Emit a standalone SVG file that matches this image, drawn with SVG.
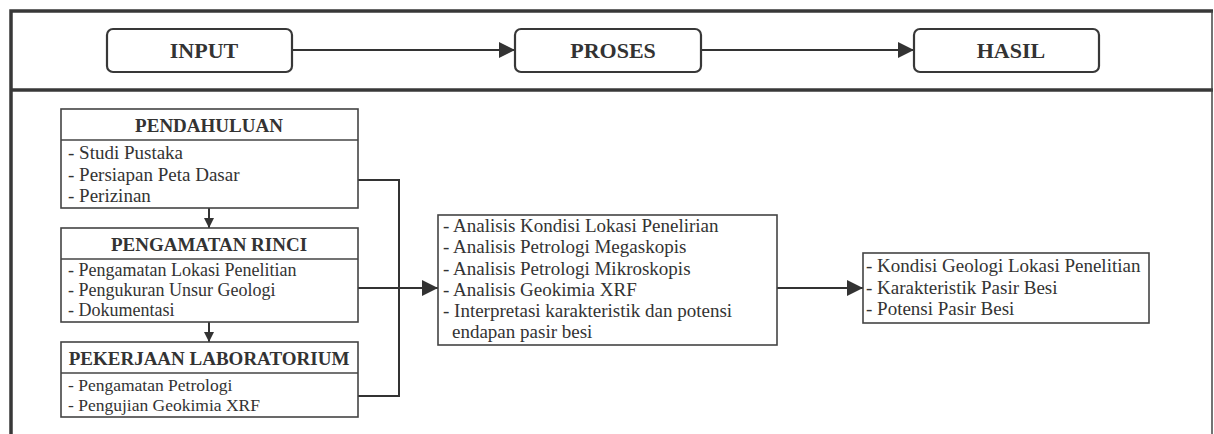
<svg xmlns="http://www.w3.org/2000/svg" width="1214" height="434" viewBox="0 0 1214 434">
<defs>
<style>
.frame{fill:none;stroke:#383838;stroke-width:3.5}
.thin{fill:none;stroke:#444;stroke-width:1.5}
.stage{fill:#fff;stroke:#383838;stroke-width:2.2}
.box{fill:#fff;stroke:#444;stroke-width:1.6}
.con{fill:none;stroke:#333;stroke-width:2}
.hdr{font-family:"Liberation Serif","Times New Roman",serif;font-weight:bold;fill:#333;text-anchor:middle}
.t{font-family:"Liberation Serif","Times New Roman",serif;font-size:19px;fill:#333}
.t.s18{font-size:18px}
.t.s17{font-size:17.5px}
</style>
<marker id="ah" viewBox="0 0 10 10" refX="10" refY="5" markerWidth="10" markerHeight="10" markerUnits="userSpaceOnUse" orient="auto">
<path d="M0,0 L10,5 L0,10 Z" fill="#333"/>
</marker>
<marker id="ahb" viewBox="0 0 10 10" refX="10" refY="5" markerWidth="16" markerHeight="17" markerUnits="userSpaceOnUse" orient="auto">
<path d="M0,0 L10,5 L0,10 Z" fill="#333"/>
</marker>
</defs>
<rect width="1214" height="434" fill="#fff"/>
<g id="frame">
<path class="frame" d="M11,434 V11 H1213"/>
<path class="frame" d="M11,90 H1213"/>
<path class="thin" d="M1212,11 V434"/>
</g>
<g id="connectors">
<path class="con" d="M292,50 H515" marker-end="url(#ahb)"/>
<path class="con" d="M701,50 H914" marker-end="url(#ahb)"/>
<path class="con" d="M209,208 V228" marker-end="url(#ah)"/>
<path class="con" d="M209,322 V342" marker-end="url(#ah)"/>
<path class="con" d="M358,180 H399 V396 H358"/>
<path class="con" d="M358,288 H438" marker-end="url(#ahb)"/>
<path class="con" d="M777,288 H863" marker-end="url(#ahb)"/>
</g>
<g id="input">
<rect class="stage" x="107" y="29" width="185" height="43" rx="6"/>
<text class="hdr" x="204" y="58" font-size="22">INPUT</text>
</g>
<g id="proses">
<rect class="stage" x="515" y="29" width="186" height="43" rx="6"/>
<text class="hdr" x="613" y="58" font-size="22">PROSES</text>
</g>
<g id="hasil">
<rect class="stage" x="914" y="29" width="185" height="43" rx="6"/>
<text class="hdr" x="1011" y="58" font-size="22">HASIL</text>
</g>
<g id="pendahuluan">
<rect class="box" x="61" y="109" width="297" height="99"/>
<line class="box" x1="61" y1="140" x2="358" y2="140"/>
<text class="hdr" x="209" y="132" font-size="19">PENDAHULUAN</text>
<text class="t" x="68" y="159">- Studi Pustaka</text>
<text class="t" x="68" y="181">- Persiapan Peta Dasar</text>
<text class="t" x="68" y="202">- Perizinan</text>
</g>
<g id="pengamatan">
<rect class="box" x="61" y="228" width="297" height="94"/>
<line class="box" x1="61" y1="259" x2="358" y2="259"/>
<text class="hdr" x="209" y="251" font-size="19">PENGAMATAN RINCI</text>
<text class="t s18" x="68" y="276">- Pengamatan Lokasi Penelitian</text>
<text class="t s18" x="68" y="296">- Pengukuran Unsur Geologi</text>
<text class="t s18" x="68" y="316">- Dokumentasi</text>
</g>
<g id="laboratorium">
<rect class="box" x="61" y="342" width="297" height="75"/>
<line class="box" x1="61" y1="373" x2="358" y2="373"/>
<text class="hdr" x="209" y="365" font-size="19">PEKERJAAN LABORATORIUM</text>
<text class="t s17" x="68" y="391">- Pengamatan Petrologi</text>
<text class="t s17" x="68" y="411">- Pengujian Geokimia XRF</text>
</g>
<g id="proses-box">
<rect class="box" x="438" y="215" width="339" height="130"/>
<text class="t" x="443" y="232">- Analisis Kondisi Lokasi Penelirian</text>
<text class="t" x="443" y="253">- Analisis Petrologi Megaskopis</text>
<text class="t" x="443" y="275">- Analisis Petrologi Mikroskopis</text>
<text class="t" x="443" y="296">- Analisis Geokimia XRF</text>
<text class="t" x="443" y="317">- Interpretasi karakteristik dan potensi</text>
<text class="t" x="452" y="338">endapan pasir besi</text>
</g>
<g id="hasil-box">
<rect class="box" x="863" y="253" width="286" height="70"/>
<text class="t" x="866" y="272">- Kondisi Geologi Lokasi Penelitian</text>
<text class="t" x="866" y="294">- Karakteristik Pasir Besi</text>
<text class="t" x="866" y="315">- Potensi Pasir Besi</text>
</g>
</svg>
